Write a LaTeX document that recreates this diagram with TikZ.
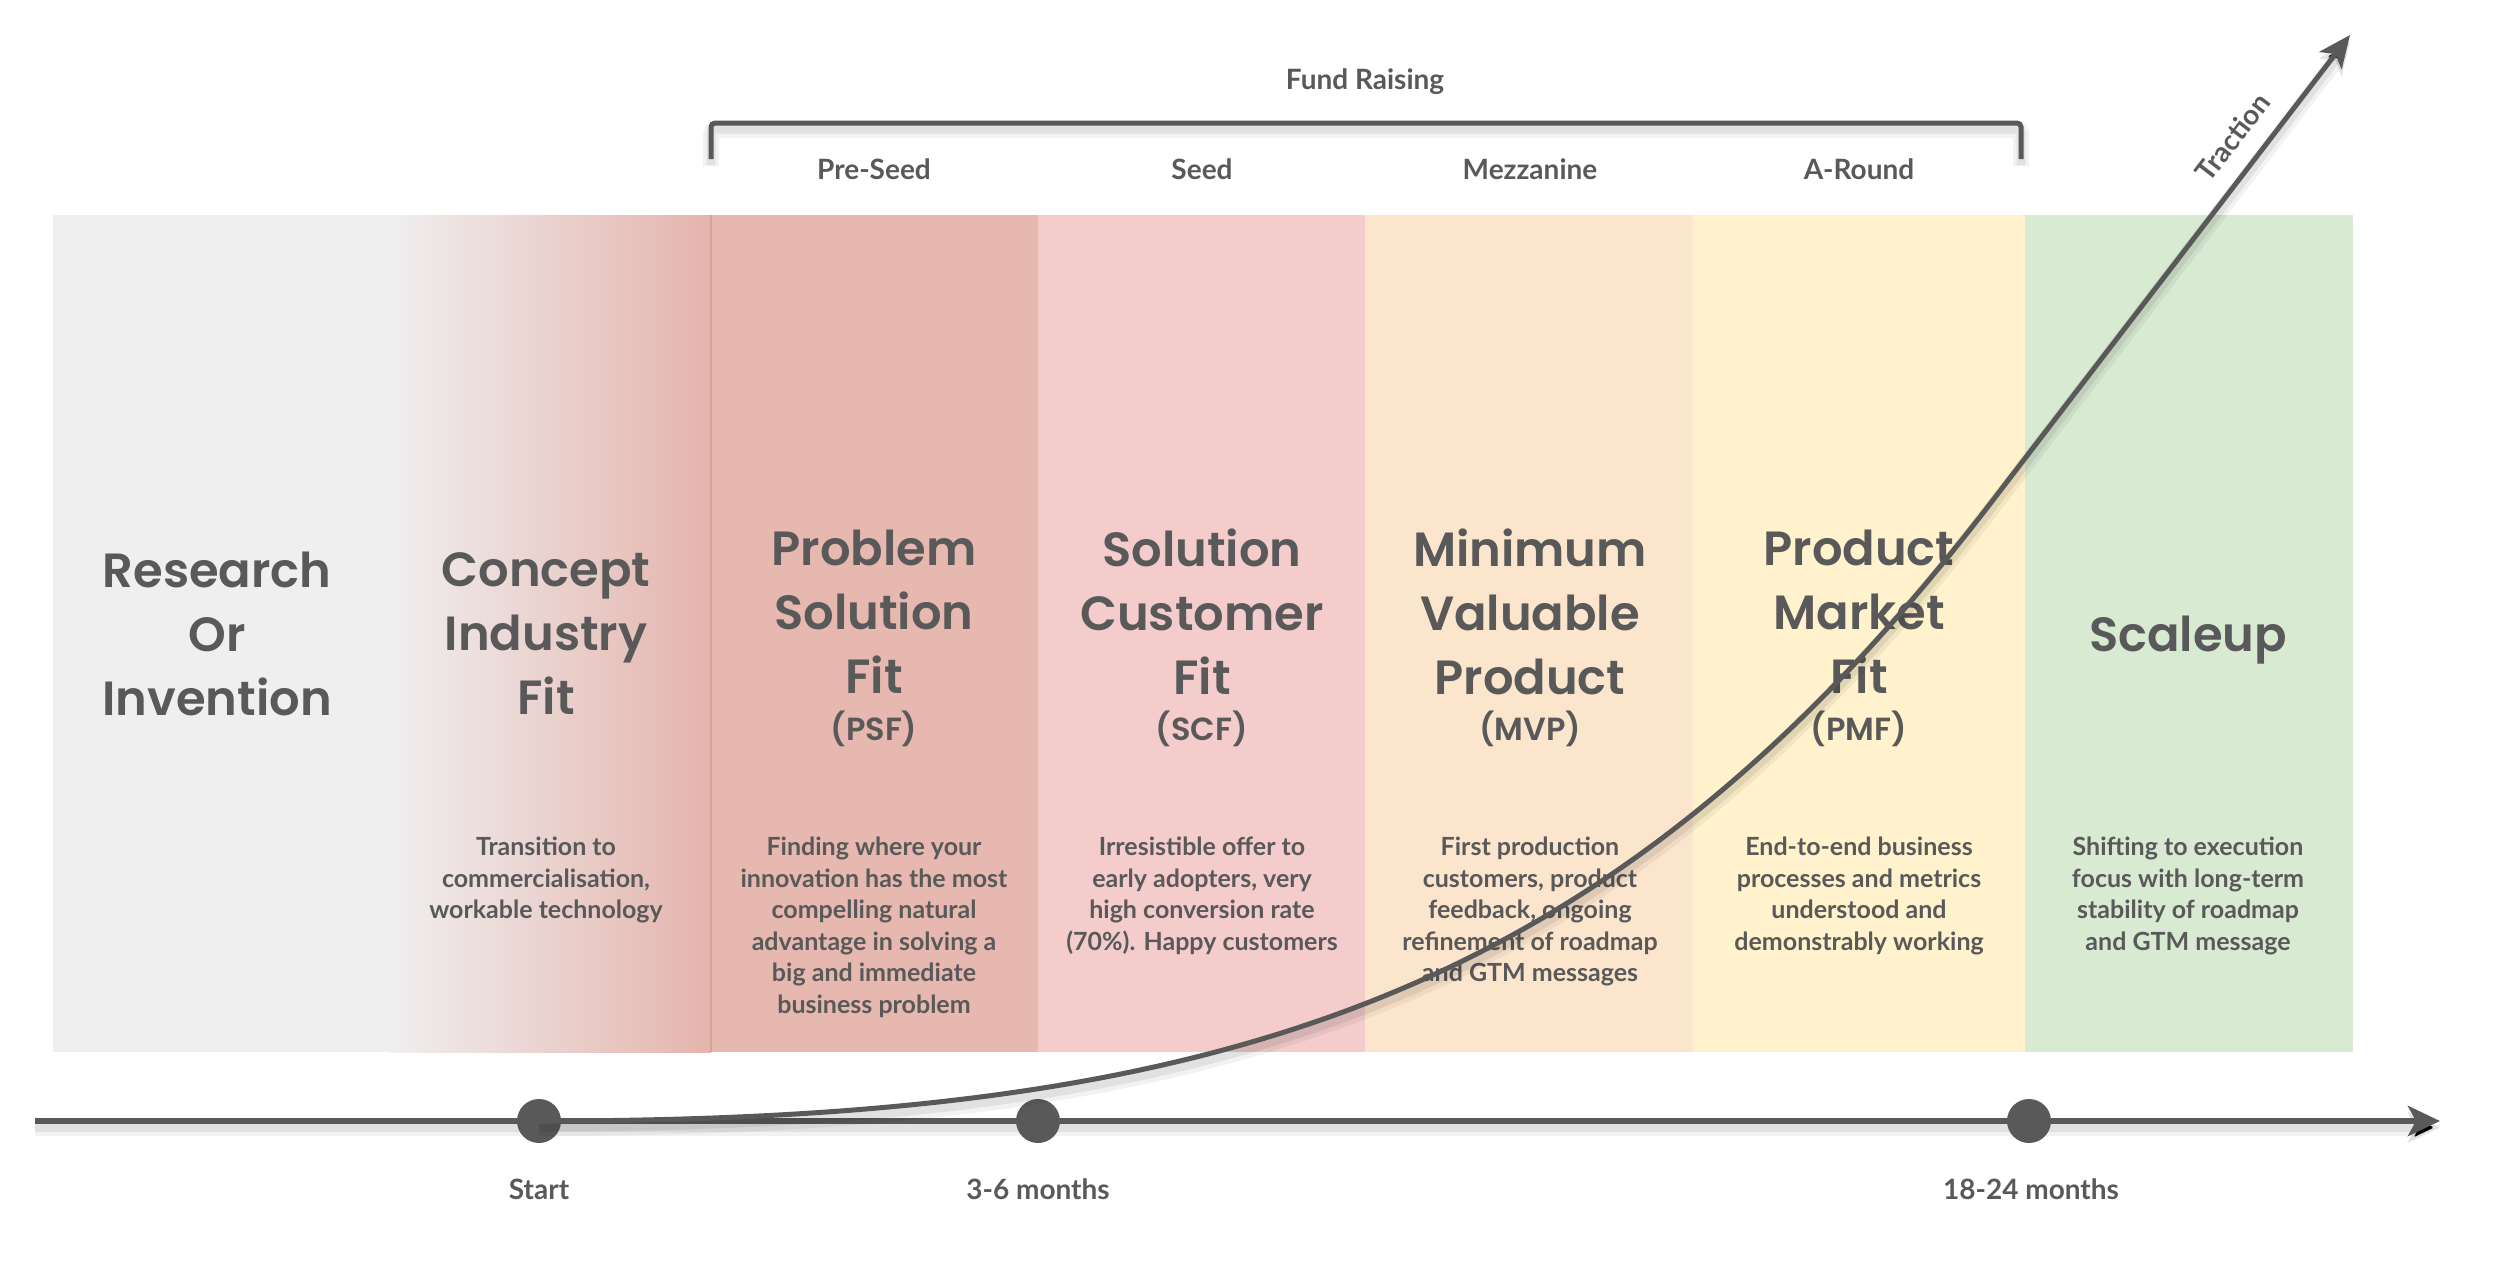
\documentclass[tikz,border=0pt]{standalone}
\usepackage{fontspec}
\setmainfont{Lato}
\newfontfamily\titlefont{Poppins}[UprightFont={* SemiBold}]
\usetikzlibrary{arrows.meta}
\definecolor{ink}{HTML}{595959}
\definecolor{greyc}{HTML}{EFEFEF}
\definecolor{psfc}{HTML}{E6B8AF}
\definecolor{scfc}{HTML}{F4CCCC}
\definecolor{mvpc}{HTML}{FCE5CD}
\definecolor{pmfc}{HTML}{FFF2CC}
\definecolor{scalec}{HTML}{D9EAD3}
\definecolor{gradend}{HTML}{E5B4AD}
\definecolor{sepc}{HTML}{D3A39C}
\begin{document}
\begin{tikzpicture}[x=1pt,y=-1pt,
  title/.style={font=\titlefont\fontsize{48}{64}\selectfont, text=ink, align=center, inner sep=0pt},
  abbr/.style={font=\titlefont\fontsize{32}{36}\selectfont, text=ink, inner sep=0pt},
  desc/.style={font=\bfseries\fontsize{25}{31.5}\selectfont, text=ink, align=center, anchor=north, inner sep=0pt},
  lbl/.style={font=\bfseries\fontsize{28}{32}\selectfont, text=ink, inner sep=0pt},
  tlbl/.style={font=\bfseries\fontsize{28}{32}\selectfont, text=ink, inner sep=0pt, anchor=base},
  dot/.style={circle, fill=ink, minimum size=44pt, inner sep=0pt},
  lshadow/.style={preaction={draw=black, draw opacity=0.05, line width=16pt, transform canvas={yshift=-7pt}},
                  preaction={draw=black, draw opacity=0.07, line width=9pt, transform canvas={yshift=-6pt}}},
  ln/.style={draw=ink, line width=5pt}]
\useasboundingbox (0,0) rectangle (2500,1262);
% columns
\fill[greyc] (53,215) rectangle (392,1052);
\shade[left color=greyc, right color=gradend] (390,215) rectangle (711,1052);
\fill[psfc] (711,215) rectangle (1038,1052);
\fill[scfc] (1038,215) rectangle (1365,1052);
\fill[mvpc] (1365,215) rectangle (1693,1052);
\fill[pmfc] (1693,215) rectangle (2025,1052);
\fill[scalec] (2025,215) rectangle (2353,1052);
\draw[sepc, line width=1.5pt] (711,215) -- (711,1052);
% titles
\node[title] (t1) at (217,634) {Research\\Or\\Invention};
\node[title] (t2) at (546,634) {Concept\\Industry\\Fit};
\node[title] (t3) at (874,612) {Problem\\Solution\\Fit};
\node[title] (t4) at (1202,612) {Solution\\Customer\\Fit};
\node[title] (t5) at (1530,612) {Minimum\\Valuable\\Product};
\node[title] (t6) at (1859,612) {Product\\Market\\Fit};
\node[title, anchor=base] (t7) at (2188,651) {Scaleup};
\node[abbr] (a3) at (874,729) {(PSF)};
\node[abbr] (a4) at (1202,729) {(SCF)};
\node[abbr] (a5) at (1530,729) {(MVP)};
\node[abbr] (a6) at (1859,729) {(PMF)};
% descriptions
\node[desc] (d2) at (546,837) {Transition to\\commercialisation,\\workable technology};
\node[desc] (d3) at (874,837) {Finding where your\\innovation has the most\\compelling natural\\advantage in solving a\\big and immediate\\business problem};
\node[desc] (d4) at (1202,837) {Irresistible offer to\\early adopters, very\\high conversion rate\\(70\%). Happy customers};
\node[desc] (d5) at (1530,837) {First production\\customers, product\\feedback, ongoing\\refinement of roadmap\\and GTM messages};
\node[desc] (d6) at (1859,837) {End-to-end business\\processes and metrics\\understood and\\demonstrably working};
\node[desc] (d7) at (2188,837) {Shifting to execution\\focus with long-term\\stability of roadmap\\and GTM message};
% fund raising
\node[lbl, anchor=base] (fr) at (1365,89) {Fund Raising};
\draw[ln, lshadow, rounded corners=4pt] (711,159) -- (711,123) -- (2021,123) -- (2021,159);
\node[lbl, anchor=base] (r1) at (874,179) {Pre-Seed};
\node[lbl, anchor=base] (r2) at (1202,179) {Seed};
\node[lbl, anchor=base] (r3) at (1530,179) {Mezzanine};
\node[lbl, anchor=base] (r4) at (1859,179) {A-Round};
% timeline
\coordinate (tl0) at (35,1121);
\coordinate (tl1) at (2440,1121);
\draw[ln, line width=6pt, lshadow, -{Stealth[length=32pt,width=30pt,inset=8pt]}] (tl0) -- (tl1);
\node[dot] (start) at (539,1121) {};
\node[dot] (m36) at (1038,1121) {};
\node[dot] (m1824) at (2029,1121) {};
\node[tlbl] (ls) at (539,1199) {Start};
\node[tlbl] (l36) at (1038,1199) {3-6 months};
\node[tlbl] (l1824) at (2031,1199) {18-24 months};
% traction curve
\coordinate (bend) at (1993,500);
\coordinate (tip) at (2350,35);
\draw[ln, lshadow, -{Stealth[length=32pt,width=28pt,inset=8pt]}] (start.center) .. controls (1239,1121) and (1615,992) .. (bend) -- node[lbl, sloped, above=18pt, pos=0.74] (trac) {Traction} (tip);
\end{tikzpicture}
\end{document}
